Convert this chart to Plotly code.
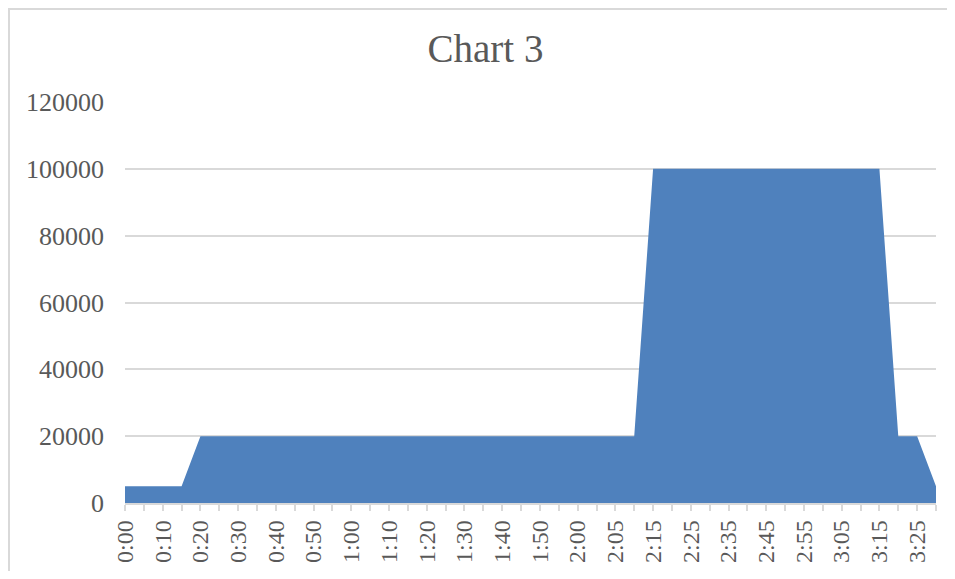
import plotly.graph_objects as go

times = ["0:00", "0:05", "0:10", "0:15", "0:20", "0:25", "0:30", "0:35", "0:40", "0:45",
         "0:50", "0:55", "1:00", "1:05", "1:10", "1:15", "1:20", "1:25", "1:30", "1:35",
         "1:40", "1:45", "1:50", "1:55", "2:00", "2:02", "2:05", "2:10", "2:15", "2:20",
         "2:25", "2:30", "2:35", "2:40", "2:45", "2:50", "2:55", "3:00", "3:05", "3:10",
         "3:15", "3:20", "3:25", "3:30"]

values = [5000, 5000, 5000, 5000, 20000, 20000, 20000, 20000, 20000, 20000,
          20000, 20000, 20000, 20000, 20000, 20000, 20000, 20000, 20000, 20000,
          20000, 20000, 20000, 20000, 20000, 20000, 20000, 20000, 100000, 100000,
          100000, 100000, 100000, 100000, 100000, 100000, 100000, 100000, 100000, 100000,
          100000, 20000, 20000, 5000]

y_ticks = [0, 20000, 40000, 60000, 80000, 100000, 120000]

tick_text = [t if i % 2 == 0 else "" for i, t in enumerate(times)]

FONT = "Liberation Serif"
TXT = "#595959"
GRID = "#D9D9D9"

W, H = 939, 563
ML, MR, MT, MB = 117, 11, 94, 68
PW, PH = W - ML - MR, H - MT - MB

bx0 = -(ML - 1) / PW
by1 = 1 + (MT - 1) / PH
bx1 = 1 + (MR + 5) / PW
by0 = -(MB + 5) / PH

fig = go.Figure()
fig.add_trace(go.Scatter(
    x=times, y=values, mode="lines", fill="tozeroy",
    line=dict(color="#4F81BD", width=0), fillcolor="#4F81BD",
    hoverinfo="x+y", showlegend=False,
))

fig.update_layout(
    width=W, height=H,
    margin=dict(l=ML, r=MR, t=MT, b=MB),
    paper_bgcolor="white", plot_bgcolor="white",
    title=dict(text="Chart 3", x=(485.5 - 8) / W, xanchor="center", y=1 - 40 / H, yanchor="middle",
               xref="container", yref="container",
               font=dict(family=FONT, size=39, color=TXT)),
    font=dict(family=FONT, color=TXT),
    xaxis=dict(
        type="category", categoryorder="array", categoryarray=times,
        range=[0, len(times) - 1], tickmode="array", tickvals=times, ticktext=tick_text,
        tickangle=-90, tickfont=dict(family=FONT, size=24, color=TXT),
        ticks="outside", ticklen=6, tickwidth=1.5, tickcolor=GRID,
        showline=True, linecolor=GRID, linewidth=1.5, showgrid=False,
        automargin=False, zeroline=False, ticklabelstandoff=0,
    ),
    yaxis=dict(
        range=[0, 120000], tickmode="array", tickvals=y_ticks,
        ticktext=[str(v) for v in y_ticks],
        tickfont=dict(family=FONT, size=26, color=TXT),
        showgrid=True, gridcolor=GRID, gridwidth=1.5, showline=False,
        zeroline=False, ticks="", ticklabelstandoff=20, automargin=False,
    ),
    shapes=[dict(type="path", xref="paper", yref="paper",
                 path=f"M {bx0},{by0} L {bx0},{by1} L {bx1},{by1}",
                 line=dict(color=GRID, width=2), layer="below")],
)

fig.write_html("out.html")
